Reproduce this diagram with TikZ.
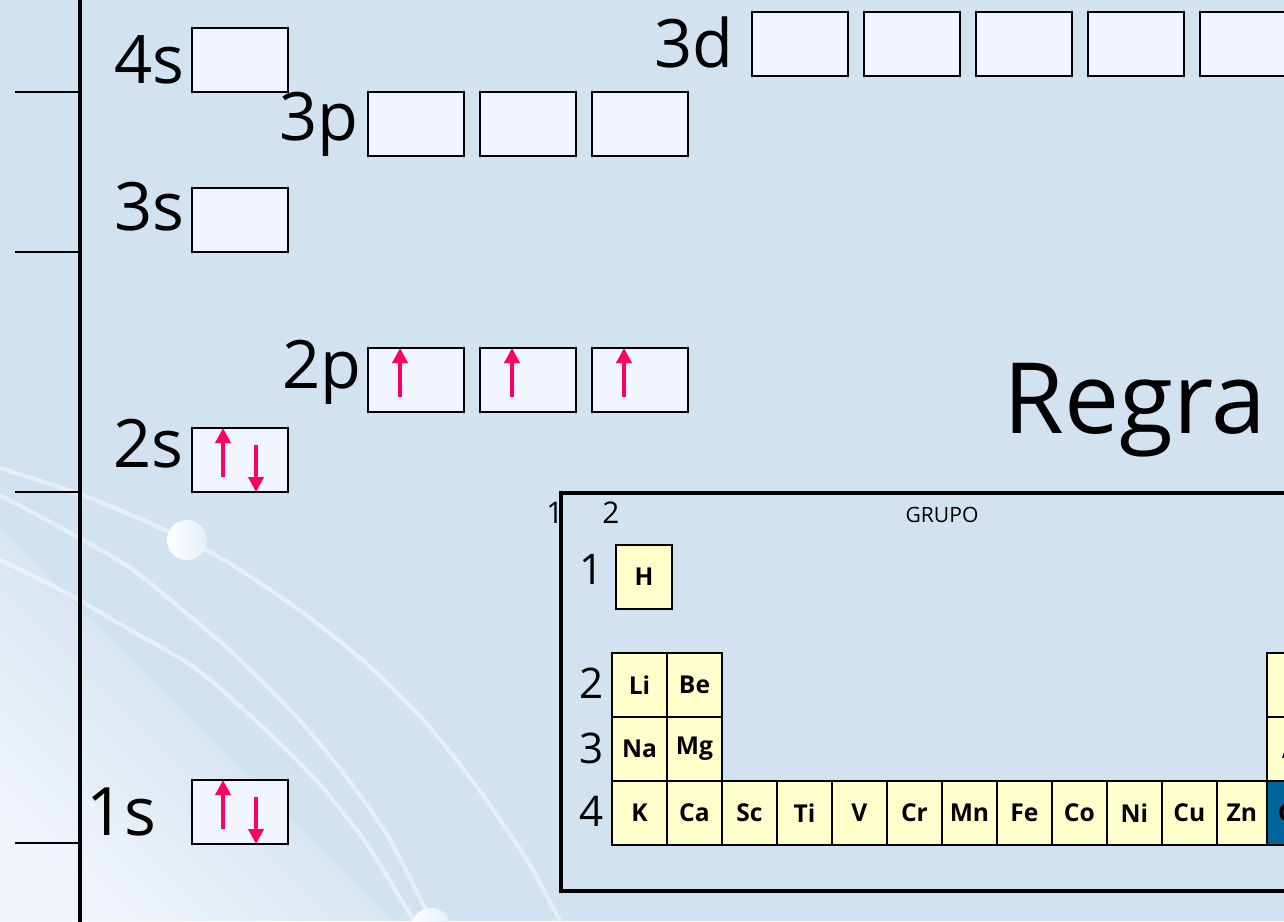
\documentclass[tikz,border=0pt]{standalone}
\usepackage{fontspec}
\setmainfont{Open Sans}
\usepackage{tikz}
\tikzset{>=latex}
\usepackage{xcolor}
\usetikzlibrary{positioning,calc}
\usetikzlibrary{arrows.meta}
\definecolor{bgblue}{RGB}{210,226,241}
\definecolor{bgshade}{RGB}{194,215,235}
\definecolor{orbfill}{RGB}{241,245,254}
\definecolor{cellfill}{RGB}{255,255,204}
\definecolor{cellblue}{RGB}{0,102,153}
\definecolor{spincol}{RGB}{255,0,102}
\tikzset{
	orbital/.style={draw,line width=1.1pt,fill=orbfill,minimum width=1.92cm,minimum height=1.28cm,inner sep=0pt,outer sep=0pt},
	orblabel/.style={inner sep=0pt,font=\fontsize{38}{38}\selectfont},
	spin/.style={draw=spincol,line width=2.3pt,-{Triangle[width=0.3cm,length=0.3cm]}},
	cell/.style={draw,line width=1.1pt,fill=cellfill,minimum width=1.1cm,minimum height=1.28cm,inner sep=0pt,outer sep=0pt,font=\fontsize{14}{14}\selectfont\bfseries},
	bluecell/.style={cell,fill=cellblue},
	period/.style={inner sep=0pt,font=\fontsize{24}{24}\selectfont},
	group/.style={inner sep=0pt,font=\fontsize{17}{17}\selectfont},
	wave/.style={white,opacity=0.45,line width=2.4pt},
	bead/.style={left color=white,right color=bgblue!60!white},
	axis/.style={line width=2pt},
}

\begin{document}
\begin{tikzpicture}[x=0.02cm,y=-0.02cm]
	\useasboundingbox (0,0) rectangle (1284,921);
	\clip (0,0) rectangle (1284,921);
	
	% Background
	\fill[bgblue] (0,0) rectangle (1284,921);
	\shade[top color=bgshade,middle color=bgshade,bottom color=white!75!bgshade,shading angle=-45] (0,530) -- (393,921) -- (0,921) -- cycle;
	\draw[wave] plot[smooth] coordinates {(0,468) (90,498) (187,540) (237,568) (306,615) (368,665) (426,723) (477,787) (527,860) (560,921)};
	\draw[wave] plot[smooth] coordinates {(0,495) (118,560) (179,607) (237,657) (293,713) (341,770) (389,838) (431,921)};
	\draw[wave] plot[smooth] coordinates {(0,560) (61,590) (125,627) (195,668) (255,720) (314,778) (366,843) (414,921)};
	\shade[bead] (187,540) circle (0.4cm);
	\shade[bead] (431,928) circle (0.4cm);
	
	% Energy axis
	\draw[axis] (80,-5) -- (80,930);
	\draw[line width=1.4pt] (15,92) -- (80,92);
	\draw[line width=1.4pt] (15,252) -- (80,252);
	\draw[line width=1.4pt] (15,492) -- (80,492);
	\draw[line width=1.4pt] (15,843) -- (80,843);
	
	% Orbitals n=4
	\node[orbital] (o4s) at (240,60) {};
	\node[orblabel,anchor=base east] (l4s) at (185,83) {4s};
	\node[orbital] (o3d1) at (800,44) {};
	\node[orbital,right=0.32cm of o3d1] (o3d2) {};
	\node[orbital,right=0.32cm of o3d2] (o3d3) {};
	\node[orbital,right=0.32cm of o3d3] (o3d4) {};
	\node[orbital,right=0.32cm of o3d4] (o3d5) {};
	\node[orblabel,anchor=base east] (l3d) at (734,67) {3d};
	
	% Orbitals n=3
	\node[orbital] (o3p1) at (416,124) {};
	\node[orbital,right=0.32cm of o3p1] (o3p2) {};
	\node[orbital,right=0.32cm of o3p2] (o3p3) {};
	\node[orblabel,anchor=base east] (l3p) at (359,140) {3p};
	\node[orbital] (o3s) at (240,220) {};
	\node[orblabel,anchor=base east] (l3s) at (185,230) {3s};
	
	% Orbitals n=2
	\node[orbital] (o2p1) at (416,380) {};
	\node[orbital,right=0.32cm of o2p1] (o2p2) {};
	\node[orbital,right=0.32cm of o2p2] (o2p3) {};
	\node[orblabel,anchor=base east] (l2p) at (362,388) {2p};
	\node[orbital] (o2s) at (240,460) {};
	\node[orblabel,anchor=base east] (l2s) at (184,467) {2s};
	
	% Orbital n=1
	\node[orbital] (o1s) at (240,812) {};
	\node[orblabel,anchor=base east] (l1s) at (157,835) {1s};
	
	% Electrons
	\draw[spin] ($(o2s.south)+(-17,-15)$) -- ($(o2s.north)+(-17,0)$);
	\draw[spin] ($(o2s.north)+(16,17)$) -- ($(o2s.south)+(16,0)$);
	\draw[spin] ($(o1s.south)+(-17,-15)$) -- ($(o1s.north)+(-17,0)$);
	\draw[spin] ($(o1s.north)+(16,17)$) -- ($(o1s.south)+(16,0)$);
	\draw[spin] ($(o2p1.south)+(-16,-15)$) -- ($(o2p1.north)+(-16,0)$);
	\draw[spin] ($(o2p2.south)+(-16,-15)$) -- ($(o2p2.north)+(-16,0)$);
	\draw[spin] ($(o2p3.south)+(-16,-15)$) -- ($(o2p3.north)+(-16,0)$);
	
	% Title
	\node[inner sep=0pt,anchor=base west,font=\fontsize{56}{56}\selectfont] (title) at (1003,433) {Regra};
	
	% Periodic table
	\node[group,anchor=base] (g1) at (555,523) {1};
	\draw[axis] (561,493) rectangle (1300,891);
	\node[group,anchor=base] (g2) at (611,523) {2};
	\node[inner sep=0pt,anchor=base,font=\fontsize{12}{12}\selectfont] (grupo) at (942,522) {GRUPO};
	
	\node[period,anchor=base] (p1) at (592,584) {1};
	\node[period,anchor=base] (p2) at (592,698) {2};
	\node[period,anchor=base] (p3) at (592,763) {3};
	\node[period,anchor=base] (p4) at (592,826) {4};
	
	\node[cell,minimum width=1.12cm] (H) at (644,577) {H};
	
	\node[cell] (Li) at (639.5,685) {Li};
	\node[cell,right=0pt of Li] (Be) {Be};
	\node[cell,below=0pt of Li] (Na) {Na};
	\node[cell,right=0pt of Na] (Mg) {Mg};
	\node[cell,below=0pt of Na] (K) {K};
	\node[cell,right=0pt of K] (Ca) {Ca};
	\node[cell,right=0pt of Ca] (Sc) {Sc};
	\node[cell,right=0pt of Sc] (Ti) {Ti};
	\node[cell,right=0pt of Ti] (V) {V};
	\node[cell,right=0pt of V] (Cr) {Cr};
	\node[cell,right=0pt of Cr] (Mn) {Mn};
	\node[cell,right=0pt of Mn] (Fe) {Fe};
	\node[cell,right=0pt of Fe] (Co) {Co};
	\node[cell,right=0pt of Co] (Ni) {Ni};
	\node[cell,right=0pt of Ni] (Cu) {Cu};
	\node[cell,right=0pt of Cu,minimum width=1.0cm] (Zn) {Zn};
	\node[bluecell,right=0pt of Zn] (Ga) {Ga};
	\node[cell,above=0pt of Ga] (Al) {Al};
	\node[cell,above=0pt of Al] (B) {B};
\end{tikzpicture}
\end{document}
